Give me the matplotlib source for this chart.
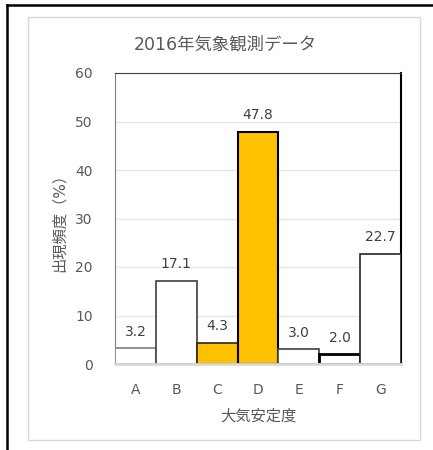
import matplotlib.pyplot as plt
from matplotlib.lines import Line2D
from matplotlib.patches import Rectangle

plt.rcParams['font.family'] = ['DejaVu Sans', 'Noto Sans CJK JP']

categories = ['A', 'B', 'C', 'D', 'E', 'F', 'G']
freq = [3.2, 17.1, 4.3, 47.8, 3.0, 2.0, 22.7]
labels = ['3.2', '17.1', '4.3', '47.8', '3.0', '2.0', '22.7']
fills = ['white', 'white', '#FFC000', '#FFC000', 'white', 'white', 'white']
edges = ['#7f7f7f', '#404040', '#262626', '#000000', '#404040', '#000000', '#262626']
widths = [1.2, 1.2, 1.2, 1.5, 1.2, 2.0, 1.2]

fig = plt.figure(figsize=(4.33, 4.5), dpi=100)
W, H = 433, 450

# outer frame pieces of the screenshot
fig.add_artist(Line2D([7 / W, 7 / W], [0, 1 - 5 / H], color='black', lw=1.8))
fig.add_artist(Line2D([7 / W, 1], [1 - 5 / H, 1 - 5 / H], color='black', lw=1.8))
fig.add_artist(Rectangle((28 / W, 1 - 440 / H), (420 - 28) / W, (440 - 17) / H,
                         transform=fig.transFigure, fill=False, ec='#d9d9d9', lw=1))

ax = fig.add_axes([115 / W, 1 - 364 / H, (401 - 115) / W, (364 - 73) / H])
x = range(len(categories))
for i in x:
    ax.bar(i, freq[i], width=1.0, color=fills[i], edgecolor=edges[i], linewidth=widths[i], zorder=3)
    ax.text(i, freq[i] + 2.0, labels[i], ha='center', va='bottom', fontsize=10, color='#404040', zorder=4)

ax.set_xlim(-0.5, 6.5)
ax.set_ylim(0, 60)
ax.set_yticks(range(0, 61, 10))
ax.set_xticks(list(x))
ax.set_xticklabels(categories)
ax.tick_params(length=0, labelsize=10, colors='#595959')
ax.tick_params(axis='y', pad=16)
ax.tick_params(axis='x', pad=14)
ax.grid(axis='y', color='#e6e6e6', lw=1, zorder=0)

ax.spines['left'].set_color('#808080')
ax.spines['top'].set_color('#404040')
ax.spines['right'].set_color('black')
ax.spines['right'].set_linewidth(1.5)
ax.spines['bottom'].set_color('#d9d9d9')
ax.spines['bottom'].set_linewidth(2)
ax.spines['bottom'].set_zorder(5)

ax.set_ylabel('出現頻度（%）', fontsize=11, color='#595959', labelpad=6)
ax.set_xlabel('大気安定度', fontsize=11, color='#595959', labelpad=8)
fig.text(225 / W, 1 - 45 / H, '2016年気象観測データ', ha='center', va='center', fontsize=12.5, color='#595959')

fig.savefig('out.png', dpi=100)
